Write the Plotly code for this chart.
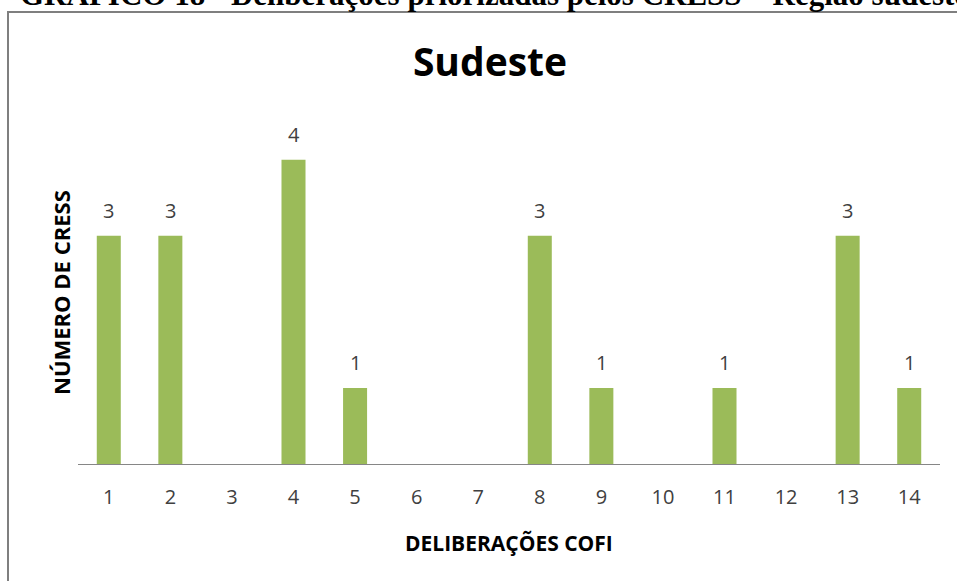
import plotly.graph_objects as go

categories = ["1", "2", "3", "4", "5", "6", "7", "8", "9", "10", "11", "12", "13", "14"]
values = [3, 3, 0, 4, 1, 0, 0, 3, 1, 0, 1, 0, 3, 1]
labels = [str(v) if v > 0 else "" for v in values]

W, H = 957, 581
L, R, T, B = 78, 17, 114, 117
ph = H - T - B
pw = W - L - R

def px_x(x):
    return (x - L) / pw

def px_y(y):
    return (H - B - y) / ph

font_main = "Open Sans, Lato, DejaVu Sans, sans-serif"

fig = go.Figure(
    go.Bar(
        x=categories,
        y=values,
        marker=dict(color="#9BBB59", line=dict(width=0)),
        width=0.39,
        hoverinfo="x+y",
    )
)

# data labels above bars, built from the data lists (category index positions)
label_annotations = [
    dict(
        x=i, y=v, xref="x", yref="y",
        text=t, showarrow=False,
        yanchor="middle", xanchor="center",
        yshift=25,
        font=dict(size=20, color="#404040", family=font_main),
    )
    for i, (v, t) in enumerate(zip(values, labels)) if t
]

fig.update_layout(
    width=W,
    height=H,
    margin=dict(l=L, r=R, t=T, b=B),
    paper_bgcolor="white",
    plot_bgcolor="white",
    showlegend=False,
    font=dict(family=font_main),
    title=dict(
        text="<b>Sudeste</b>",
        x=490 / W,
        xanchor="center",
        y=1 - 62 / H,
        yanchor="middle",
        font=dict(size=39, color="black", family=font_main),
    ),
    xaxis=dict(
        type="category",
        range=[-0.5, len(categories) - 0.5],
        showline=True,
        linecolor="#868686",
        linewidth=1,
        showgrid=False,
        ticks="",
        tickfont=dict(size=20, color="#404040", family=font_main),
        ticklabelstandoff=15,
    ),
    yaxis=dict(
        range=[0, 4.6],
        visible=False,
        showgrid=False,
        zeroline=False,
    ),
    annotations=label_annotations + [
        dict(
            text="<b>NÚMERO DE CRESS</b>",
            xref="paper", yref="paper",
            x=px_x(61), y=px_y(293),
            xanchor="center", yanchor="middle",
            textangle=-90, showarrow=False,
            font=dict(size=22, color="black", family=font_main),
        ),
        dict(
            text="<b>DELIBERAÇÕES COFI</b>",
            xref="paper", yref="paper",
            x=px_x(509), y=px_y(543),
            xanchor="center", yanchor="middle",
            showarrow=False,
            font=dict(size=21, color="black", family=font_main),
        ),
        dict(
            text="<b>GRÁFICO 18 - Deliberações priorizadas pelos CRESS – Região sudeste</b>",
            xref="paper", yref="paper",
            x=px_x(18), y=px_y(-5),
            xanchor="left", yanchor="middle",
            showarrow=False,
            font=dict(size=31, color="black", family="Liberation Serif, Times New Roman, serif"),
        ),
    ],
    shapes=[
        dict(
            type="rect", xref="paper", yref="paper",
            x0=px_x(8), x1=px_x(990), y0=px_y(12), y1=px_y(610),
            line=dict(color="#7F7F7F", width=2),
            fillcolor="rgba(0,0,0,0)",
            layer="below",
        )
    ],
)

fig.write_html(
    "out.html",
    config={"displayModeBar": False},
    post_script="document.body.style.margin='0';document.body.style.overflow='hidden';",
)
